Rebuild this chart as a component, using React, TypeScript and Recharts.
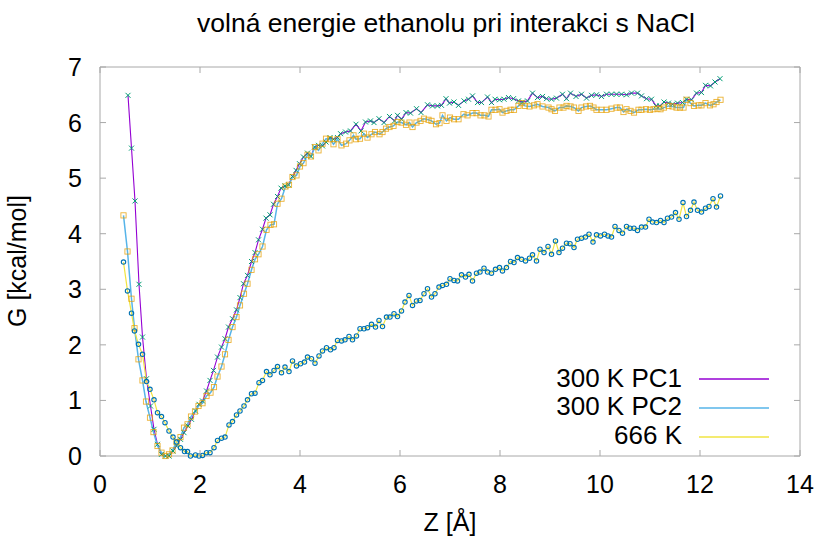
import { Line, LineChart, ReferenceArea, XAxis, YAxis } from "recharts";

// Z [Å] , G [kcal/mol]
const pc1 = [
  [0.56, 6.49], [0.63, 5.54], [0.7, 4.59], [0.78, 3.09], [0.85, 2.14], [0.93, 1.39], [1.01, 0.9], [1.08, 0.48],
  [1.15, 0.21], [1.23, 0.03], [1.31, 0.0], [1.38, 0.0], [1.46, 0.09], [1.53, 0.18], [1.61, 0.3], [1.68, 0.42],
  [1.76, 0.54], [1.83, 0.66], [1.91, 0.81], [1.98, 0.93], [2.05, 0.99], [2.13, 1.17], [2.2, 1.36], [2.27, 1.54],
  [2.35, 1.78], [2.43, 1.96], [2.5, 2.11], [2.57, 2.32], [2.65, 2.47], [2.73, 2.63], [2.8, 2.85], [2.87, 3.1],
  [2.95, 3.25], [3.03, 3.5], [3.1, 3.66], [3.17, 3.89], [3.25, 4.08], [3.32, 4.28], [3.4, 4.34], [3.47, 4.53],
  [3.55, 4.67], [3.62, 4.82], [3.7, 4.86], [3.77, 4.88], [3.85, 5.03], [3.92, 5.14], [3.99, 5.26], [4.07, 5.38],
  [4.15, 5.45], [4.22, 5.39], [4.29, 5.56], [4.37, 5.59], [4.45, 5.58], [4.52, 5.65], [4.6, 5.73], [4.67, 5.7],
  [4.75, 5.73], [4.81, 5.8], [4.91, 5.83], [5.01, 5.85], [5.12, 5.97], [5.22, 5.85], [5.31, 6.01], [5.41, 6.03],
  [5.48, 6.0], [5.58, 6.07], [5.68, 6.0], [5.79, 6.11], [5.89, 6.03], [5.95, 6.13], [6.03, 6.06], [6.12, 6.18],
  [6.21, 6.17], [6.33, 6.25], [6.42, 6.18], [6.55, 6.32], [6.65, 6.3], [6.75, 6.3], [6.83, 6.31], [6.92, 6.43],
  [6.99, 6.35], [7.08, 6.37], [7.17, 6.31], [7.28, 6.39], [7.37, 6.42], [7.45, 6.48], [7.55, 6.36], [7.63, 6.36],
  [7.75, 6.46], [7.83, 6.36], [7.9, 6.42], [7.99, 6.41], [8.08, 6.42], [8.17, 6.45], [8.27, 6.43], [8.37, 6.39],
  [8.45, 6.37], [8.55, 6.39], [8.65, 6.53], [8.75, 6.45], [8.85, 6.47], [8.93, 6.43], [9.03, 6.42], [9.13, 6.44],
  [9.25, 6.51], [9.33, 6.43], [9.41, 6.53], [9.52, 6.47], [9.63, 6.51], [9.73, 6.44], [9.83, 6.49], [9.93, 6.5],
  [10.03, 6.47], [10.13, 6.51], [10.23, 6.51], [10.33, 6.51], [10.43, 6.51], [10.53, 6.5], [10.63, 6.53],
  [10.75, 6.53], [10.83, 6.48], [10.93, 6.43], [11.03, 6.42], [11.12, 6.3], [11.2, 6.3], [11.28, 6.37],
  [11.37, 6.35], [11.45, 6.33], [11.55, 6.35], [11.65, 6.36], [11.73, 6.42], [11.83, 6.41], [11.93, 6.53],
  [12.03, 6.54], [12.11, 6.67], [12.21, 6.66], [12.3, 6.73], [12.4, 6.79],
];

const pc2 = [
  [0.47, 4.33], [0.55, 3.68], [0.63, 2.83], [0.69, 2.3], [0.77, 1.74], [0.85, 1.36], [0.92, 0.98], [1.0, 0.69],
  [1.07, 0.43], [1.15, 0.18], [1.23, 0.06], [1.31, 0.0], [1.38, 0.03], [1.45, 0.1], [1.53, 0.25], [1.61, 0.34],
  [1.68, 0.51], [1.75, 0.57], [1.82, 0.71], [1.9, 0.8], [1.97, 0.9], [2.05, 0.95], [2.13, 1.08], [2.21, 1.14],
  [2.28, 1.24], [2.35, 1.43], [2.43, 1.61], [2.5, 1.83], [2.57, 2.09], [2.65, 2.32], [2.73, 2.5], [2.8, 2.71],
  [2.88, 2.92], [2.95, 3.1], [3.03, 3.35], [3.1, 3.54], [3.17, 3.63], [3.25, 3.77], [3.33, 4.07], [3.41, 4.16],
  [3.48, 4.17], [3.55, 4.54], [3.63, 4.63], [3.71, 4.85], [3.78, 4.88], [3.85, 5.02], [3.93, 5.05], [4.0, 5.21],
  [4.07, 5.27], [4.15, 5.42], [4.22, 5.39], [4.3, 5.56], [4.37, 5.5], [4.45, 5.62], [4.52, 5.71], [4.6, 5.7],
  [4.67, 5.61], [4.75, 5.7], [4.83, 5.59], [4.92, 5.62], [4.99, 5.68], [5.07, 5.77], [5.12, 5.7], [5.2, 5.71],
  [5.28, 5.8], [5.35, 5.73], [5.43, 5.79], [5.5, 5.83], [5.59, 5.79], [5.65, 5.83], [5.72, 5.89], [5.79, 5.92],
  [5.87, 5.94], [5.95, 6.01], [6.03, 6.0], [6.12, 5.96], [6.19, 6.0], [6.25, 5.92], [6.33, 6.0], [6.41, 6.03],
  [6.48, 6.07], [6.57, 6.05], [6.63, 6.03], [6.72, 5.97], [6.79, 5.99], [6.85, 6.13], [6.93, 6.03], [7.0, 6.09],
  [7.08, 6.06], [7.17, 6.06], [7.27, 6.15], [7.35, 6.13], [7.45, 6.17], [7.53, 6.17], [7.61, 6.13], [7.69, 6.13],
  [7.77, 6.11], [7.83, 6.23], [7.91, 6.23], [7.99, 6.24], [8.05, 6.18], [8.13, 6.21], [8.21, 6.23], [8.28, 6.23],
  [8.37, 6.3], [8.43, 6.35], [8.5, 6.3], [8.59, 6.29], [8.68, 6.31], [8.75, 6.33], [8.85, 6.29], [8.97, 6.27],
  [9.03, 6.24], [9.1, 6.21], [9.19, 6.27], [9.27, 6.27], [9.33, 6.3], [9.41, 6.29], [9.48, 6.27], [9.57, 6.21],
  [9.63, 6.27], [9.72, 6.29], [9.8, 6.3], [9.87, 6.27], [9.93, 6.23], [10.03, 6.23], [10.13, 6.23], [10.23, 6.25],
  [10.33, 6.27], [10.4, 6.27], [10.47, 6.19], [10.53, 6.24], [10.61, 6.21], [10.68, 6.18], [10.77, 6.23],
  [10.83, 6.23], [10.92, 6.24], [11.0, 6.23], [11.07, 6.24], [11.15, 6.25], [11.21, 6.24], [11.28, 6.27],
  [11.37, 6.3], [11.45, 6.29], [11.53, 6.27], [11.6, 6.27], [11.67, 6.27], [11.73, 6.41], [11.81, 6.35],
  [11.88, 6.3], [11.97, 6.31], [12.03, 6.31], [12.11, 6.35], [12.2, 6.31], [12.27, 6.33], [12.33, 6.37], [12.41, 6.41],
];

const k666 = [
  [0.47, 3.49], [0.55, 2.97], [0.63, 2.57], [0.69, 2.25], [0.77, 2.01], [0.85, 1.83], [0.93, 1.34], [1.0, 1.2],
  [1.08, 1.01], [1.15, 0.78], [1.23, 0.71], [1.3, 0.6], [1.38, 0.45], [1.46, 0.34], [1.53, 0.25], [1.61, 0.15],
  [1.69, 0.08], [1.75, 0.08], [1.81, 0.0], [1.91, 0.02], [1.98, 0.0], [2.05, 0.01], [2.13, 0.06], [2.2, 0.06],
  [2.28, 0.15], [2.35, 0.28], [2.43, 0.32], [2.5, 0.34], [2.58, 0.56], [2.65, 0.62], [2.73, 0.74], [2.8, 0.81],
  [2.88, 0.9], [2.95, 1.01], [3.03, 1.12], [3.1, 1.13], [3.18, 1.32], [3.25, 1.36], [3.33, 1.52], [3.4, 1.46],
  [3.48, 1.54], [3.55, 1.61], [3.63, 1.5], [3.7, 1.6], [3.78, 1.52], [3.85, 1.71], [3.93, 1.62], [4.01, 1.66],
  [4.09, 1.69], [4.15, 1.78], [4.23, 1.75], [4.3, 1.67], [4.38, 1.8], [4.45, 1.89], [4.53, 1.95], [4.61, 1.91],
  [4.68, 1.95], [4.75, 2.08], [4.83, 2.07], [4.9, 2.09], [4.98, 2.15], [5.05, 2.09], [5.13, 2.16], [5.2, 2.29],
  [5.28, 2.29], [5.35, 2.31], [5.43, 2.37], [5.51, 2.32], [5.58, 2.44], [5.65, 2.33], [5.73, 2.5], [5.8, 2.5],
  [5.88, 2.56], [5.95, 2.51], [6.03, 2.61], [6.1, 2.77], [6.18, 2.89], [6.25, 2.71], [6.33, 2.79], [6.4, 2.8],
  [6.48, 2.92], [6.55, 3.01], [6.63, 2.86], [6.7, 2.92], [6.78, 3.04], [6.85, 3.07], [6.93, 3.09], [7.0, 3.19],
  [7.08, 3.16], [7.15, 3.15], [7.23, 3.26], [7.31, 3.22], [7.38, 3.27], [7.45, 3.15], [7.53, 3.29], [7.6, 3.31],
  [7.68, 3.38], [7.75, 3.31], [7.83, 3.29], [7.91, 3.36], [7.99, 3.39], [8.05, 3.33], [8.13, 3.39], [8.21, 3.5],
  [8.28, 3.48], [8.35, 3.57], [8.43, 3.54], [8.51, 3.51], [8.59, 3.56], [8.65, 3.62], [8.73, 3.51], [8.8, 3.72],
  [8.88, 3.66], [8.96, 3.77], [9.03, 3.63], [9.11, 3.87], [9.18, 3.66], [9.25, 3.74], [9.33, 3.83], [9.4, 3.82],
  [9.48, 3.75], [9.55, 3.9], [9.63, 3.92], [9.71, 3.94], [9.78, 3.99], [9.86, 3.85], [9.93, 3.98], [10.01, 3.96],
  [10.09, 3.99], [10.16, 3.96], [10.23, 3.94], [10.3, 4.13], [10.38, 4.06], [10.45, 4.01], [10.53, 4.13],
  [10.6, 4.1], [10.68, 4.1], [10.75, 4.06], [10.83, 4.12], [10.91, 4.12], [10.98, 4.26], [11.05, 4.21],
  [11.13, 4.2], [11.21, 4.24], [11.28, 4.2], [11.35, 4.28], [11.43, 4.3], [11.51, 4.38], [11.58, 4.26],
  [11.66, 4.56], [11.73, 4.31], [11.81, 4.42], [11.88, 4.57], [11.95, 4.42], [12.03, 4.39], [12.11, 4.46],
  [12.18, 4.49], [12.26, 4.63], [12.33, 4.48], [12.41, 4.68],
];

const xTicks = [0, 2, 4, 6, 8, 10, 12, 14];
const yTicks = [0, 1, 2, 3, 4, 5, 6, 7];

const toRows = (arr) => arr.map(([z, g]) => ({ z, g }));

const series = [
  { name: "300 K PC1", data: toRows(pc1), line: "#9400d3", mark: "#009e73", shape: "cross", width: 1.1 },
  { name: "300 K PC2", data: toRows(pc2), line: "#56b4e9", mark: "#e69f00", shape: "square", width: 1.5 },
  { name: "666 K", data: toRows(k666), line: "#f0e442", mark: "#0072b2", shape: "circle", width: 1.2 },
];

const W = 819;
const H = 537;
const LEFT = 100;
const RIGHT = 800;
const TOP = 67;
const BOTTOM = 456;
const BORDER = "#a8a8a8";
const FONT = "'Liberation Sans', Arial, sans-serif";

const makeDot = (shape, color) => (props) => {
  const { cx, cy, index } = props;
  if (cx == null || cy == null) return null;
  if (shape === "cross") {
    return (
      <path key={index} d={`M${cx - 2.5},${cy - 2.5}L${cx + 2.5},${cy + 2.5}M${cx - 2.5},${cy + 2.5}L${cx + 2.5},${cy - 2.5}`}
        stroke={color} strokeWidth={1} fill="none" />
    );
  }
  if (shape === "square") {
    return <rect key={index} x={cx - 2.6} y={cy - 2.6} width={5.2} height={5.2} stroke={color} strokeOpacity={0.8} strokeWidth={0.9} fill="none" />;
  }
  return <circle key={index} cx={cx} cy={cy} r={2.2} stroke={color} strokeWidth={1.1} fill="none" />;
};

const XTick = ({ x, payload }) => (
  <g>
    <line x1={x} x2={x} y1={BOTTOM} y2={BOTTOM - 6} stroke={BORDER} />
    <line x1={x} x2={x} y1={TOP} y2={TOP + 6} stroke={BORDER} />
    <text x={x} y={493} textAnchor="middle" fontSize={25} fontFamily={FONT} fill="#000">{payload.value}</text>
  </g>
);

const YTick = ({ y, payload }) => (
  <g>
    <line x1={LEFT} x2={LEFT + 6} y1={y} y2={y} stroke={BORDER} />
    <line x1={RIGHT} x2={RIGHT - 6} y1={y} y2={y} stroke={BORDER} />
    <text x={82} y={y} dy="0.36em" textAnchor="end" fontSize={25} fontFamily={FONT} fill="#000">{payload.value}</text>
  </g>
);

export default function App() {
  return (
    <div style={{ position: "absolute", left: 0, top: 0, width: W, height: H, background: "#fff" }}>
      <LineChart width={W} height={H} margin={{ top: TOP, right: W - RIGHT, left: 0, bottom: 0 }}>
        <XAxis dataKey="z" type="number" domain={[0, 14]} ticks={xTicks} height={H - BOTTOM}
          axisLine={false} tickLine={false} tick={<XTick />} interval={0} />
        <YAxis type="number" domain={[0, 7]} ticks={yTicks} width={LEFT}
          axisLine={false} tickLine={false} tick={<YTick />} interval={0} />
        <ReferenceArea x1={0} x2={14} y1={0} y2={7} fill="none" stroke={BORDER} strokeWidth={1} ifOverflow="visible" />
        {series.map((s) => (
          <Line key={s.name} data={s.data} dataKey="g" name={s.name} type="linear" stroke={s.line}
            strokeWidth={s.width} dot={makeDot(s.shape, s.mark)} activeDot={false} isAnimationActive={false} />
        ))}
      </LineChart>
      <svg width={W} height={H} style={{ position: "absolute", left: 0, top: 0, pointerEvents: "none" }}>
        <text x={446} y={32} textAnchor="middle" fontSize={26.5} fontFamily={FONT}>volná energie ethanolu pri interakci s NaCl</text>
        <text x={26} y={261} textAnchor="middle" fontSize={25} fontFamily={FONT} transform="rotate(-90 26 261)">G [kcal/mol]</text>
        <text x={450} y={531} textAnchor="middle" fontSize={25} fontFamily={FONT}>Z [Å]</text>
        {series.map((s, i) => (
          <g key={s.name}>
            <text x={682} y={387 + i * 28.3} textAnchor="end" fontSize={26} fontFamily={FONT}>{s.name}</text>
            <line x1={699} x2={769} y1={379 + i * 29} y2={379 + i * 29} stroke={s.line} strokeWidth={1.6} />
          </g>
        ))}
      </svg>
    </div>
  );
}
